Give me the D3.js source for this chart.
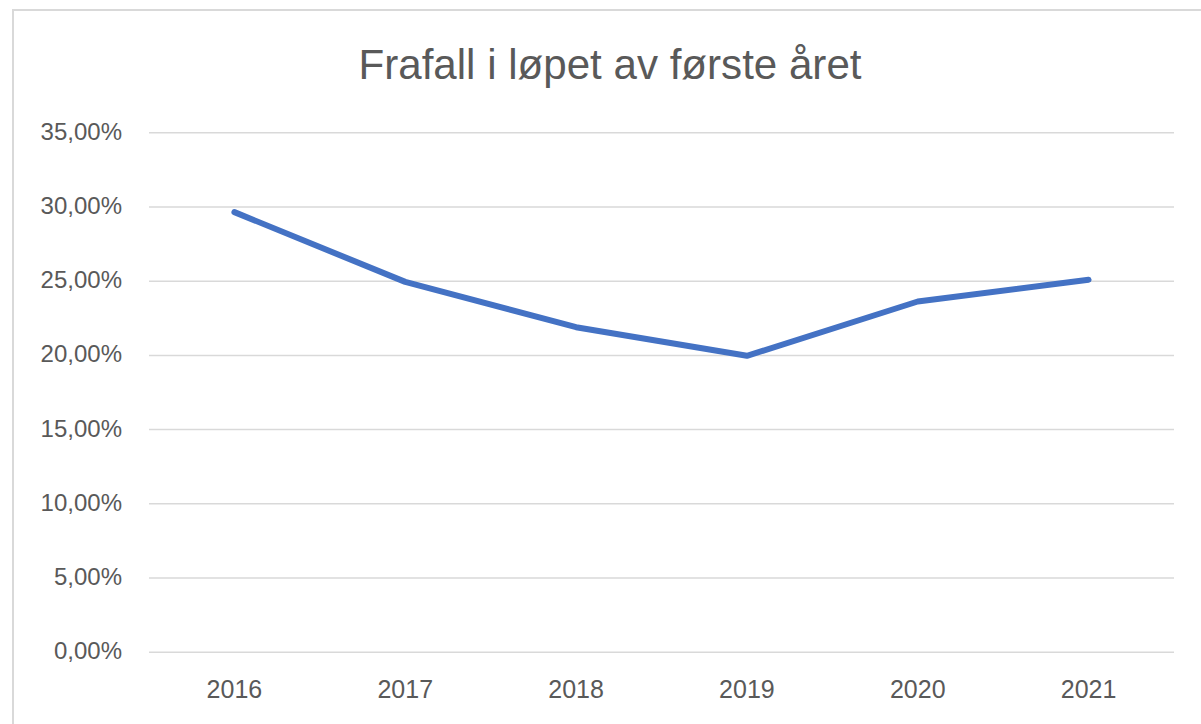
<!DOCTYPE html>
<html>
<head>
<meta charset="utf-8">
<script src="https://cdn.jsdelivr.net/npm/d3@7"></script>
<style>
  body { margin: 0; background: #fff; }
  svg text { font-family: "Liberation Sans", Arial, sans-serif; fill: #595959; }
</style>
</head>
<body>
<div id="cont"></div>
<script>
var years = ["2016", "2017", "2018", "2019", "2020", "2021"];
var dropout = [0.2965, 0.2495, 0.2190, 0.1997, 0.2363, 0.2509];
var yTicks = [0, 0.05, 0.10, 0.15, 0.20, 0.25, 0.30, 0.35];
var title = "Frafall i løpet av første året";

var width = 1201, height = 724;
var plotLeft = 149, plotRight = 1174, plotTop = 132.7, plotBottom = 652.3;

var svg = d3.select("#cont").append("svg")
  .attr("width", width)
  .attr("height", height);

// chart frame
svg.append("rect")
  .attr("x", 13).attr("y", 10)
  .attr("width", 1300).attr("height", 1000)
  .attr("fill", "none")
  .attr("stroke", "#d9d9d9")
  .attr("stroke-width", 2);

var x = d3.scaleBand().domain(years).range([plotLeft, plotRight]);
var y = d3.scaleLinear().domain([0, 0.35]).range([plotBottom, plotTop]);

var fmt = function(d) { return d3.format(".2f")(d * 100).replace(".", ",") + "%"; };

// gridlines
svg.append("g").selectAll("line")
  .data(yTicks)
  .enter().append("line")
  .attr("x1", plotLeft).attr("x2", plotRight)
  .attr("y1", function(d) { return y(d); })
  .attr("y2", function(d) { return y(d); })
  .attr("stroke", "#d9d9d9")
  .attr("stroke-width", 1.5);

// y labels
svg.append("g").selectAll("text")
  .data(yTicks)
  .enter().append("text")
  .attr("x", 122)
  .attr("y", function(d) { return y(d) + 7; })
  .attr("text-anchor", "end")
  .style("font-size", "24px")
  .text(fmt);

// x labels
svg.append("g").selectAll("text")
  .data(years)
  .enter().append("text")
  .attr("x", function(d) { return x(d) + x.bandwidth() / 2; })
  .attr("y", 698)
  .attr("text-anchor", "middle")
  .style("font-size", "25px")
  .text(function(d) { return d; });

// line
var line = d3.line()
  .x(function(d, i) { return x(years[i]) + x.bandwidth() / 2; })
  .y(function(d) { return y(d); });

svg.append("path")
  .datum(dropout)
  .attr("d", line)
  .attr("fill", "none")
  .attr("stroke", "#4472c4")
  .attr("stroke-width", 6)
  .attr("stroke-linejoin", "round")
  .attr("stroke-linecap", "round");

// title
svg.append("text")
  .attr("x", 610)
  .attr("y", 79)
  .attr("text-anchor", "middle")
  .attr("textLength", 503)
  .attr("lengthAdjust", "spacingAndGlyphs")
  .style("font-size", "43px")
  .text(title);
</script>
</body>
</html>
